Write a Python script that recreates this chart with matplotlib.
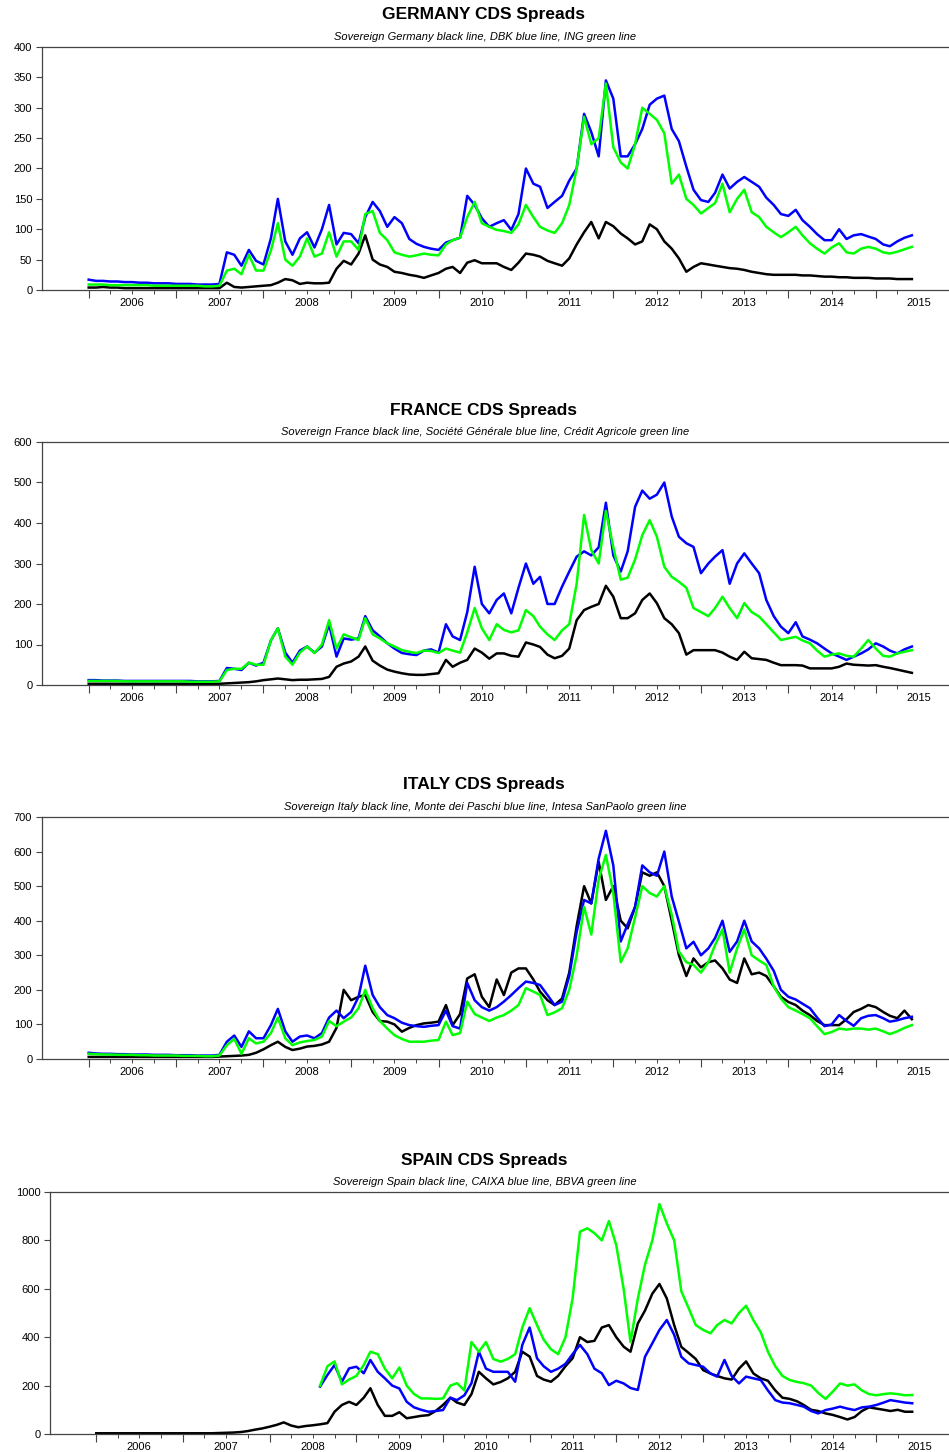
import numpy as np
import pandas as pd
import matplotlib
matplotlib.use('Agg')
import matplotlib.pyplot as plt
import matplotlib.dates as mdates

nan = np.nan

# monthly CDS spreads (bp), Jan 2006 - Jun 2015
months = pd.date_range('2006-01-01', '2015-06-01', freq='MS')

ger_black = [4, 4, 5, 4, 4, 3, 3, 3, 3, 3, 3, 3,
             3, 3, 3, 3, 3, 3, 3, 12, 5, 4, 5, 6,
             7, 8, 12, 18, 16, 10, 12, 11, 11, 12, 35, 48,
             42, 60, 90, 50, 42, 38, 30, 28, 25, 23, 20, 24,
             28, 35, 38, 28, 45, 49, 44, 44, 44, 38, 33, 45,
             60, 58, 55, 48, 44, 40, 52, 75, 95, 112, 85, 112,
             105, 93, 85, 75, 80, 108, 100, 80, 68, 52, 30, 38,
             44, 42, 40, 38, 36, 35, 33, 30, 28, 26, 25, 25,
             25, 25, 24, 24, 23, 22, 22, 21, 21, 20, 20, 20,
             19, 19, 19, 18, 18, 18]
ger_blue = [17, 15, 15, 14, 14, 13, 13, 12, 12, 11, 11, 11,
            10, 10, 10, 9, 9, 9, 10, 62, 58, 40, 66, 48,
            42, 85, 150, 80, 58, 85, 95, 70, 100, 140, 75, 94,
            92, 77, 120, 145, 130, 104, 120, 110, 84, 76, 71, 68,
            66, 78, 82, 86, 155, 140, 118, 104, 110, 115, 99, 125,
            200, 175, 170, 135, 145, 155, 180, 200, 290, 260, 220, 345,
            315, 220, 220, 240, 265, 305, 315, 320, 265, 245, 203, 165,
            148, 145, 160, 190, 167, 178, 186, 178, 170, 152, 140, 125,
            122, 132, 115, 104, 92, 82, 82, 100, 84, 90, 92, 88,
            84, 75, 72, 80, 86, 90]
ger_green = [9, 9, 9, 8, 8, 8, 8, 8, 8, 7, 7, 7,
             7, 7, 7, 7, 6, 6, 7, 32, 35, 26, 58, 32,
             32, 65, 110, 50, 40, 55, 85, 55, 60, 95, 55, 80,
             80, 66, 125, 130, 94, 82, 62, 58, 55, 57, 60, 58,
             57, 75, 82, 86, 120, 145, 110, 104, 99, 97, 94, 108,
             140, 120, 104, 98, 94, 110, 140, 200, 285, 240, 250, 340,
             235, 210, 200, 240, 300, 290, 280, 258, 175, 190, 150, 140,
             126, 135, 143, 175, 128, 150, 165, 128, 120, 104, 95, 87,
             95, 104, 90, 77, 68, 60, 70, 77, 62, 60, 68, 71,
             68, 62, 60, 63, 67, 71]

fra_black = [3, 3, 3, 3, 3, 3, 3, 3, 3, 3, 3, 3,
             3, 3, 3, 3, 3, 3, 3, 4, 5, 6, 7, 9,
             12, 14, 16, 14, 12, 13, 13, 14, 15, 20, 45, 53,
             58, 70, 95, 60, 48, 38, 33, 29, 26, 25, 25, 27,
             29, 62, 45, 55, 62, 90, 80, 65, 78, 78, 72, 70,
             105, 100, 94, 75, 66, 72, 90, 160, 185, 193, 200, 245,
             218, 165, 165, 177, 210, 226, 202, 165, 150, 128, 75, 86,
             86, 86, 86, 80, 70, 62, 82, 66, 64, 62, 55, 49,
             49, 49, 48, 41, 41, 41, 41, 45, 53, 50, 49, 48,
             49, 45, 42, 38, 34, 30]
fra_blue = [12, 12, 11, 11, 11, 10, 10, 10, 10, 10, 10, 10,
            10, 10, 10, 9, 9, 9, 10, 42, 40, 37, 55, 48,
            55, 110, 140, 80, 55, 85, 95, 80, 95, 150, 70, 115,
            112, 115, 170, 135, 120, 103, 90, 79, 76, 74, 85, 88,
            80, 150, 120, 111, 180, 292, 200, 177, 210, 226, 177, 240,
            300, 250, 267, 200, 200, 243, 280, 317, 330, 320, 340, 450,
            320, 280, 330, 440, 480, 460, 470, 500, 416, 366, 350, 341,
            276, 300, 317, 333, 250, 300, 325, 300, 276, 210, 170, 144,
            128, 155, 120, 112, 103, 90, 78, 70, 62, 70, 78, 88,
            103, 95, 85, 78, 88, 95]
fra_green = [10, 10, 10, 10, 10, 9, 9, 9, 9, 9, 9, 9,
             9, 9, 8, 8, 8, 8, 9, 37, 40, 40, 55, 50,
             50, 110, 140, 70, 50, 80, 95, 79, 100, 160, 90, 125,
             118, 111, 165, 125, 115, 103, 95, 86, 82, 79, 85, 84,
             79, 90, 85, 80, 130, 190, 140, 111, 150, 136, 130, 135,
             185, 170, 144, 125, 111, 135, 150, 250, 420, 333, 300, 430,
             340, 260, 265, 310, 370, 407, 366, 292, 267, 255, 240, 190,
             180, 170, 190, 218, 190, 165, 202, 180, 169, 150, 130, 111,
             115, 119, 110, 103, 85, 70, 75, 78, 72, 70, 90, 111,
             90, 72, 70, 78, 82, 86]

ita_black = [6, 6, 6, 6, 6, 6, 6, 6, 6, 6, 6, 6,
             6, 6, 6, 6, 6, 6, 7, 8, 9, 10, 12, 18,
             28, 40, 50, 35, 26, 30, 36, 38, 42, 50, 90, 200,
             170, 180, 185, 136, 110, 108, 100, 79, 90, 98, 103, 105,
             108, 156, 98, 130, 233, 245, 180, 150, 230, 185, 250, 262,
             262, 230, 195, 170, 156, 175, 250, 385, 500, 450, 570, 460,
             500, 400, 378, 440, 540, 530, 540, 500, 400, 300, 240, 291,
             265, 280, 285, 262, 230, 220, 291, 245, 250, 240, 210, 180,
             165, 156, 140, 127, 110, 98, 98, 98, 115, 136, 145, 156,
             150, 136, 125, 118, 140, 115]
ita_blue = [18, 16, 15, 15, 14, 14, 13, 13, 13, 12, 12, 12,
            11, 11, 11, 10, 10, 10, 12, 50, 68, 35, 80, 60,
            60, 98, 145, 80, 50, 65, 68, 60, 75, 120, 140, 118,
            136, 180, 270, 185, 150, 127, 118, 105, 98, 95, 93, 96,
            98, 140, 95, 88, 220, 170, 150, 140, 150, 166, 185, 205,
            224, 220, 214, 185, 156, 166, 240, 368, 460, 450, 580, 660,
            560, 340, 390, 440, 560, 540, 530, 600, 470, 397, 320, 339,
            300, 320, 350, 400, 310, 340, 400, 340, 320, 290, 255, 200,
            180, 172, 160, 147, 120, 95, 100, 127, 110, 96, 118, 125,
            127, 118, 108, 112, 118, 122]
ita_green = [15, 14, 13, 13, 12, 12, 12, 11, 11, 10, 10, 10,
             10, 9, 9, 9, 8, 8, 10, 40, 58, 15, 60, 45,
             50, 75, 120, 60, 40, 48, 52, 55, 65, 110, 95, 108,
             120, 147, 200, 147, 110, 88, 69, 58, 50, 50, 50, 53,
             55, 108, 69, 75, 166, 130, 120, 110, 120, 127, 140, 156,
             205, 195, 185, 127, 135, 147, 200, 300, 440, 360, 520, 590,
             480, 280, 320, 410, 500, 480, 470, 500, 417, 311, 280, 272,
             250, 280, 330, 375, 250, 320, 375, 300, 285, 272, 210, 175,
             150, 140, 130, 118, 95, 72, 78, 88, 85, 88, 88, 85,
             88, 80, 72, 80, 90, 98]

spa_black = [3, 3, 3, 3, 3, 3, 3, 3, 3, 3, 3, 3,
             3, 3, 3, 3, 3, 4, 5, 6, 8, 12, 18, 23,
             30, 38, 48, 35, 28, 33, 36, 40, 45, 92, 120, 133,
             120, 150, 189, 120, 75, 75, 90, 65, 70, 75, 78, 95,
             120, 150, 130, 120, 165, 257, 230, 205, 215, 230, 257, 340,
             320, 240, 225, 216, 240, 280, 313, 400, 380, 385, 440, 450,
             400, 361, 340, 457, 510, 580, 620, 560, 450, 360, 335, 310,
             264, 250, 240, 230, 225, 270, 300, 250, 230, 220, 180, 150,
             145, 135, 120, 100, 95, 85, 79, 70, 60, 70, 95, 110,
             105, 100, 95, 100, 92, 92]
spa_blue = [nan] * 31 + [196, 244, 285, 216, 271,
            278, 251, 306, 257, 230, 200, 188, 133, 110, 100, 92, 95,
            99, 150, 140, 160, 210, 340, 270, 257, 257, 257, 216, 368,
            440, 313, 280, 257, 270, 290, 330, 368, 330, 270, 251, 202,
            220, 209, 190, 182, 319, 375, 430, 471, 410, 319, 292, 285,
            278, 250, 237, 306, 240, 209, 237, 230, 223, 180, 140, 130,
            127, 120, 113, 95, 85, 99, 105, 113, 105, 99, 110, 113,
            120, 130, 140, 135, 130, 127]
spa_green = [nan] * 31 + [200, 280, 300, 205, 225,
             240, 285, 340, 330, 270, 230, 275, 200, 165, 147, 147, 145,
             147, 200, 210, 180, 380, 340, 380, 310, 299, 310, 330, 440,
             520, 450, 390, 350, 330, 400, 560, 836, 850, 830, 800, 880,
             780, 600, 380, 560, 700, 800, 950, 870, 800, 590, 520, 450,
             430, 416, 450, 471, 457, 500, 530, 470, 420, 340, 280, 240,
             223, 215, 210, 200, 170, 145, 175, 209, 200, 205, 180, 165,
             160, 165, 168, 165, 160, 161]

panels = [
    ('GERMANY CDS Spreads',
     'Sovereign Germany black line, DBK blue line, ING green line',
     ger_black, ger_blue, ger_green, 400, 50),
    ('FRANCE CDS Spreads',
     'Sovereign France black line, Société Générale blue line, Crédit Agricole green line',
     fra_black, fra_blue, fra_green, 600, 100),
    ('ITALY CDS Spreads',
     'Sovereign Italy black line, Monte dei Paschi blue line, Intesa SanPaolo green line',
     ita_black, ita_blue, ita_green, 700, 100),
    ('SPAIN CDS Spreads',
     'Sovereign Spain black line, CAIXA blue line, BBVA green line',
     spa_black, spa_blue, spa_green, 1000, 200),
]
years = list(range(2006, 2016))

plt.rcParams['font.family'] = ['Liberation Sans', 'DejaVu Sans']
plt.rcParams['axes.linewidth'] = 0.9

W, H = 949, 1452
fig = plt.figure(figsize=(W / 100, H / 100), dpi=100)

# axes boxes in pixels: left, top, bottom
boxes = [(42, 47, 290), (42, 442, 685), (42, 817, 1059), (50, 1192, 1434)]
spine_col = '#444444'

year_ticks = mdates.date2num(pd.date_range('2006-01-01', '2015-01-01', freq='YS'))
qtr_ticks = mdates.date2num(pd.date_range('2006-01-01', '2015-04-01', freq='QS'))

for (title, subtitle, blk, blu, grn, ymax, ystep), (left, top, bottom) in zip(panels, boxes):
    ax = fig.add_axes([left / W, 1 - bottom / H, 1 - left / W, (bottom - top) / H])
    ax.plot(months, blk, color='black', lw=1.8)
    ax.plot(months, blu, color='#0000ff', lw=1.8)
    ax.plot(months, grn, color='#00ff00', lw=1.8)

    ax.set_xlim(pd.Timestamp('2005-06-20'), pd.Timestamp('2015-11-03'))
    ax.set_ylim(0, ymax)
    ax.set_yticks(np.arange(0, ymax + 1, ystep))

    ax.set_xticks(year_ticks)
    ax.set_xticklabels([])
    ax.set_xticks(qtr_ticks, minor=True)
    ax.tick_params(axis='x', which='major', length=5.5, width=0.8, color=spine_col, direction='out')
    ax.tick_params(axis='x', which='minor', length=3, width=0.7, color=spine_col, direction='out')
    ax.tick_params(axis='y', length=4, width=0.8, color=spine_col, labelsize=8, pad=3)
    for y in years:
        ax.annotate(str(y), xy=(pd.Timestamp(f'{y}-07-01'), 0), xycoords=('data', 'axes fraction'),
                    xytext=(0, -6), textcoords='offset points', ha='center', va='top', fontsize=8)

    for s in ['left', 'top', 'bottom']:
        ax.spines[s].set_color(spine_col)
    ax.spines['right'].set_visible(False)

    fig.text(484 / W, 1 - (top - 32) / H, title, ha='center', va='center',
             fontsize=12.5, fontweight='bold')
    fig.text(485 / W, 1 - (top - 10) / H, subtitle, ha='center', va='center',
             fontsize=8, style='italic')

plt.savefig('out.png', dpi=100)
plt.close(fig)
